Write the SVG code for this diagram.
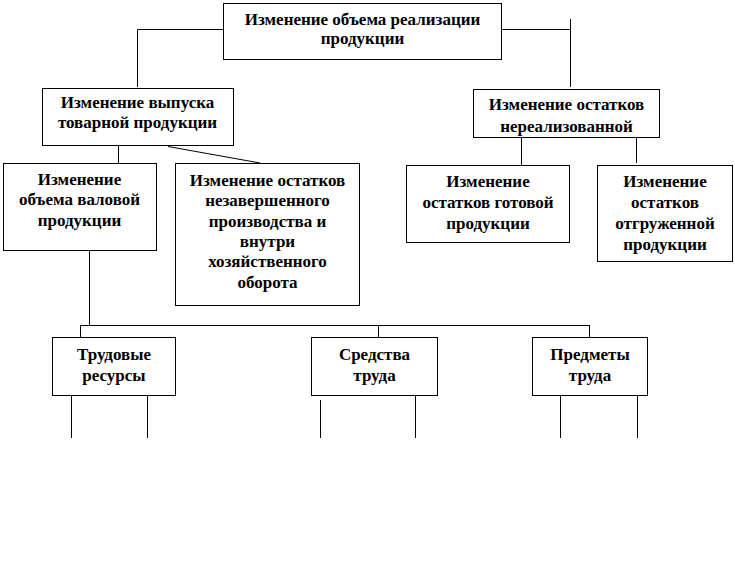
<svg xmlns="http://www.w3.org/2000/svg" width="735" height="578" viewBox="0 0 735 578" font-family="Liberation Serif, Times New Roman, DejaVu Serif, serif">
<defs>
<style>
.box{fill:#fff;stroke:#000;stroke-width:1}
.t{font-weight:bold;font-size:17px;fill:#000;text-anchor:middle}
.c{stroke:#000;stroke-width:1;fill:none}
</style>
<clipPath id="clipN"><rect x="473.5" y="89.5" width="186" height="48"/></clipPath>
</defs>
<rect width="735" height="578" fill="#fff"/>
<g id="connectors">
<polyline class="c" points="223,29.5 137.5,29.5 137.5,87"/>
<line class="c" x1="502" y1="29.5" x2="570.5" y2="29.5"/>
<line class="c" x1="570.5" y1="19" x2="570.5" y2="87"/>
<line class="c" x1="118.5" y1="145" x2="118.5" y2="163"/>
<line class="c" x1="168" y1="146.5" x2="260" y2="163"/>
<line class="c" x1="521.5" y1="137" x2="521.5" y2="165"/>
<line class="c" x1="636.5" y1="137" x2="636.5" y2="163"/>
<line class="c" x1="89.5" y1="250" x2="89.5" y2="325"/>
<line class="c" x1="80" y1="325.5" x2="589.5" y2="325.5"/>
<line class="c" x1="80.5" y1="325" x2="80.5" y2="337"/>
<line class="c" x1="378.5" y1="325" x2="378.5" y2="337"/>
<line class="c" x1="589.5" y1="325" x2="589.5" y2="337"/>
<line class="c" x1="71.5" y1="389" x2="71.5" y2="438"/>
<line class="c" x1="147.5" y1="389" x2="147.5" y2="438"/>
<line class="c" x1="320.5" y1="400" x2="320.5" y2="438"/>
<line class="c" x1="415.5" y1="389" x2="415.5" y2="438"/>
<line class="c" x1="560.5" y1="389" x2="560.5" y2="438"/>
<line class="c" x1="637.5" y1="389" x2="637.5" y2="438"/>
</g>
<g id="n-top">
<rect class="box" x="223.5" y="3.5" width="278" height="56"/>
<text class="t" x="362.5" y="25">Изменение объема реализации</text>
<text class="t" x="362.5" y="44">продукции</text>
</g>
<g id="n-vypusk">
<rect class="box" x="42.5" y="88.5" width="191" height="57"/>
<text class="t" x="137.5" y="108">Изменение выпуска</text>
<text class="t" x="137.5" y="128">товарной продукции</text>
</g>
<g id="n-nereal">
<rect class="box" x="473.5" y="89.5" width="186" height="48"/>
<g clip-path="url(#clipN)">
<text class="t" x="566.5" y="110">Изменение остатков</text>
<text class="t" x="566.5" y="132">нереализованной</text>
</g>
</g>
<g id="n-valovoy">
<rect class="box" x="3.5" y="163.5" width="153" height="87"/>
<text class="t" x="79.5" y="185">Изменение</text>
<text class="t" x="79.5" y="205">объема валовой</text>
<text class="t" x="79.5" y="226">продукции</text>
</g>
<g id="n-nezav">
<rect class="box" x="175.5" y="163.5" width="184" height="142"/>
<text class="t" x="267.5" y="186">Изменение остатков</text>
<text class="t" x="267.5" y="206">незавершенного</text>
<text class="t" x="267.5" y="226.5">производства и</text>
<text class="t" x="267.5" y="247">внутри</text>
<text class="t" x="267.5" y="267">хозяйственного</text>
<text class="t" x="267.5" y="287.5">оборота</text>
</g>
<g id="n-gotov">
<rect class="box" x="406.5" y="165.5" width="163" height="77"/>
<text class="t" x="488" y="187">Изменение</text>
<text class="t" x="488" y="208">остатков готовой</text>
<text class="t" x="488" y="229">продукции</text>
</g>
<g id="n-otgruzh">
<rect class="box" x="597.5" y="165.5" width="135" height="96"/>
<text class="t" x="665" y="187">Изменение</text>
<text class="t" x="665" y="208">остатков</text>
<text class="t" x="665" y="229">отгруженной</text>
<text class="t" x="665" y="250">продукции</text>
</g>
<g id="n-trud">
<rect class="box" x="52.5" y="337.5" width="123" height="58"/>
<text class="t" x="114" y="360">Трудовые</text>
<text class="t" x="114" y="381">ресурсы</text>
</g>
<g id="n-sredstva">
<rect class="box" x="311.5" y="337.5" width="126" height="58"/>
<text class="t" x="374.5" y="360">Средства</text>
<text class="t" x="374.5" y="381">труда</text>
</g>
<g id="n-predmety">
<rect class="box" x="532.5" y="337.5" width="115" height="58"/>
<text class="t" x="590" y="360">Предметы</text>
<text class="t" x="590" y="381">труда</text>
</g>
</svg>
